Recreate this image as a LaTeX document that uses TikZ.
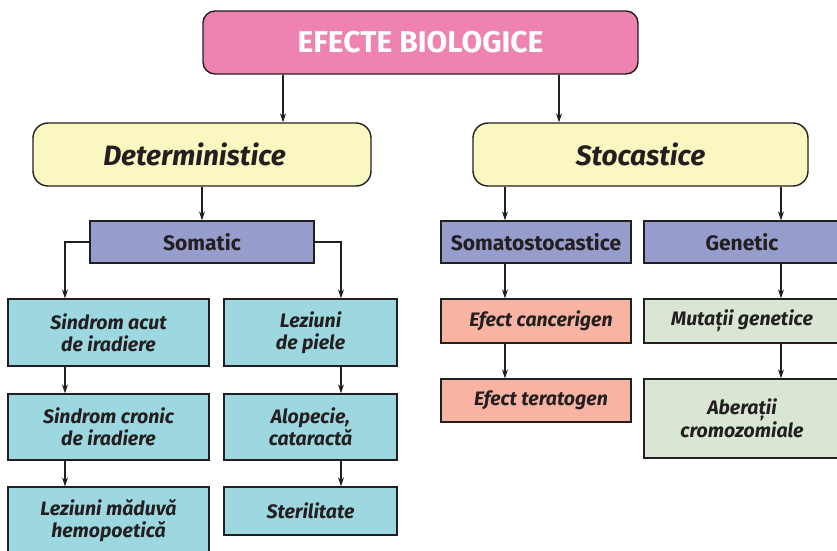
\documentclass[tikz,border=0pt]{standalone}
\usepackage{fontspec}
\setmainfont{Fira Sans}
\usetikzlibrary{arrows.meta}
\definecolor{ink}{HTML}{231F20}
\definecolor{pinkfill}{HTML}{EE82B0}
\definecolor{yellowfill}{HTML}{FBF7C0}
\definecolor{violetfill}{HTML}{969CCC}
\definecolor{cyanfill}{HTML}{9DD8E0}
\definecolor{salmonfill}{HTML}{F8B3A3}
\definecolor{greenfill}{HTML}{D9E6D3}
\tikzset{
  box/.style={draw=ink, line width=1.4pt, text=ink, align=center, inner sep=0pt},
  titlebox/.style={box, fill=pinkfill, rounded corners=12pt, text=white,
    font=\fontsize{30}{33}\selectfont\bfseries},
  classbox/.style={box, fill=yellowfill, rounded corners=15pt,
    font=\fontsize{28}{32}\selectfont\bfseries\itshape},
  groupbox/.style={box, fill=violetfill, font=\fontsize{21}{24}\selectfont\bfseries},
  effectbox/.style={box, font=\fontsize{19.5}{22}\selectfont\bfseries\itshape},
  arr/.style={draw=ink, line width=1.1pt, -{Stealth[length=9pt,width=6pt]}}
}
\begin{document}
\begin{tikzpicture}[x=1pt, y=-1pt]
\useasboundingbox (0,0) rectangle (837,550);
\begin{scope}
\clip (0,0) rectangle (837,550);

% top level
\node[titlebox, minimum width=435pt, minimum height=63pt] (top) at (420.5,42.5) {EFECTE BIOLOGICE};

% two classes
\node[classbox, minimum width=338pt, minimum height=63pt] (det) at (202,154.5) {\hspace*{-15pt}Deterministice};
\node[classbox, minimum width=335pt, minimum height=63pt] (sto) at (640.5,154.5) {Stocastice};

% groups
\node[groupbox, minimum width=224pt, minimum height=42pt] (som) at (202,242) {Somatic};
\node[groupbox, minimum width=190pt, minimum height=42pt] (somsto) at (536,242) {Somatostocastice};
\node[groupbox, minimum width=196pt, minimum height=42pt] (gen) at (742,242) {Genetic};

% deterministic effects, left column
\node[effectbox, fill=cyanfill, minimum width=201pt, minimum height=67pt] (l1) at (108.5,332.5) {Sindrom acut\\de iradiere};
\node[effectbox, fill=cyanfill, minimum width=201pt, minimum height=66pt] (l2) at (108.5,427) {Sindrom cronic\\de iradiere};
\node[effectbox, fill=cyanfill, minimum width=201pt, minimum height=67pt] (l3) at (108.5,520.5) {Leziuni măduvă\\hemopoetică};

% deterministic effects, right column
\node[effectbox, fill=cyanfill, minimum width=173pt, minimum height=67pt] (r1) at (310.5,332.5) {Leziuni\\de piele};
\node[effectbox, fill=cyanfill, minimum width=173pt, minimum height=66pt] (r2) at (310.5,427) {Alopecie,\\cataractă};
\node[effectbox, fill=cyanfill, minimum width=173pt, minimum height=48pt] (r3) at (310.5,511) {Sterilitate};

% stochastic effects
\node[effectbox, fill=salmonfill, minimum width=190pt, minimum height=44pt] (canc) at (536,321) {\hspace{10pt}Efect cancerigen};
\node[effectbox, fill=salmonfill, minimum width=190pt, minimum height=43pt] (ter) at (536,400.5) {\hspace{10pt}Efect teratogen};
\node[effectbox, fill=greenfill, minimum width=196pt, minimum height=44pt] (mut) at (742,321) {Mutații genetice};
\node[effectbox, fill=greenfill, minimum width=196pt, minimum height=79pt] (aber) at (742,418.5) {Aberații\\cromozomiale};

% connector columns
\coordinate (xa) at (283,0);
\coordinate (xb) at (559,0);
\coordinate (xl) at (65,0);
\coordinate (xr) at (341,0);
\coordinate (xs) at (505,0);
\coordinate (xg) at (781,0);

\draw[arr] (top.south -| xa) -- (det.north -| xa);
\draw[arr] (top.south -| xb) -- (sto.north -| xb);
\draw[arr] (det.south) -- (som.north);
\draw[arr] (sto.south -| xs) -- (somsto.north -| xs);
\draw[arr] (sto.south -| xg) -- (gen.north -| xg);

\draw[arr] (som.west) -| (l1.north -| xl);
\draw[arr] (som.east) -| (r1.north -| xr);
\draw[arr] (l1.south -| xl) -- (l2.north -| xl);
\draw[arr] (l2.south -| xl) -- (l3.north -| xl);
\draw[arr] (r1.south -| xr) -- (r2.north -| xr);
\draw[arr] (r2.south -| xr) -- (r3.north -| xr);

\draw[arr] (somsto.south -| xs) -- (canc.north -| xs);
\draw[arr] (canc.south -| xs) -- (ter.north -| xs);
\draw[arr] (gen.south -| xg) -- (mut.north -| xg);
\draw[arr] (mut.south -| xg) -- (aber.north -| xg);
\end{scope}
\end{tikzpicture}
\end{document}
